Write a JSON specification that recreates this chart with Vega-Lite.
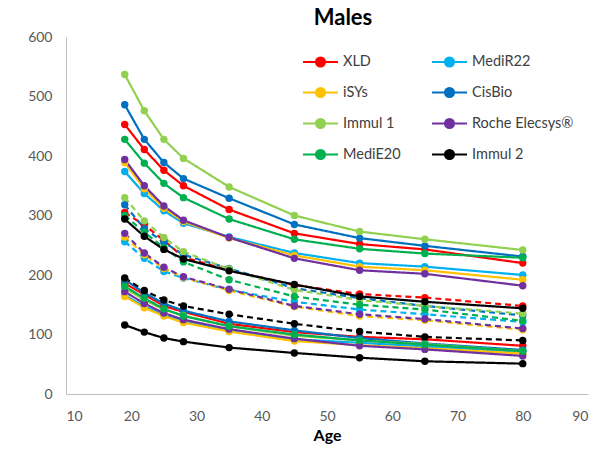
{
"$schema": "https://vega.github.io/schema/vega-lite/v6.json",
"width": 522, "height": 357,
"autosize": "none",
"padding": {"left": 66, "top": 37, "right": 13, "bottom": 58},
"background": "white",
"title": {"text": "Males", "font": "Lato", "fontSize": 22, "fontWeight": "bold", "color": "#000000", "anchor": "middle", "dx": 16, "offset": 0},
"config": {
  "view": {"stroke": null},
  "axis": {"grid": false, "ticks": false, "domainColor": "#bfbfbf", "domainWidth": 1, "labelFont": "Lato", "labelFontSize": 14, "labelColor": "#595959", "titleFont": "Lato", "titleColor": "#000000"}
},
"data": {"values": [
{"a":"XLD","p":"upper","age":19,"v":453},{"a":"XLD","p":"upper","age":22,"v":411},{"a":"XLD","p":"upper","age":25,"v":376},{"a":"XLD","p":"upper","age":28,"v":350},{"a":"XLD","p":"upper","age":35,"v":310},{"a":"XLD","p":"upper","age":45,"v":270},{"a":"XLD","p":"upper","age":55,"v":252},{"a":"XLD","p":"upper","age":65,"v":243},{"a":"XLD","p":"upper","age":80,"v":220},
{"a":"XLD","p":"median","age":19,"v":305},{"a":"XLD","p":"median","age":22,"v":284},{"a":"XLD","p":"median","age":25,"v":258},{"a":"XLD","p":"median","age":28,"v":230},{"a":"XLD","p":"median","age":35,"v":208},{"a":"XLD","p":"median","age":45,"v":183},{"a":"XLD","p":"median","age":55,"v":168},{"a":"XLD","p":"median","age":65,"v":162},{"a":"XLD","p":"median","age":80,"v":148},
{"a":"XLD","p":"lower","age":19,"v":186},{"a":"XLD","p":"lower","age":22,"v":167},{"a":"XLD","p":"lower","age":25,"v":148},{"a":"XLD","p":"lower","age":28,"v":138},{"a":"XLD","p":"lower","age":35,"v":118},{"a":"XLD","p":"lower","age":45,"v":104},{"a":"XLD","p":"lower","age":55,"v":96},{"a":"XLD","p":"lower","age":65,"v":92},{"a":"XLD","p":"lower","age":80,"v":81},
{"a":"MediR22","p":"upper","age":19,"v":374},{"a":"MediR22","p":"upper","age":22,"v":337},{"a":"MediR22","p":"upper","age":25,"v":308},{"a":"MediR22","p":"upper","age":28,"v":287},{"a":"MediR22","p":"upper","age":35,"v":264},{"a":"MediR22","p":"upper","age":45,"v":237},{"a":"MediR22","p":"upper","age":55,"v":220},{"a":"MediR22","p":"upper","age":65,"v":214},{"a":"MediR22","p":"upper","age":80,"v":200},
{"a":"MediR22","p":"median","age":19,"v":256},{"a":"MediR22","p":"median","age":22,"v":228},{"a":"MediR22","p":"median","age":25,"v":206},{"a":"MediR22","p":"median","age":28,"v":195},{"a":"MediR22","p":"median","age":35,"v":175},{"a":"MediR22","p":"median","age":45,"v":155},{"a":"MediR22","p":"median","age":55,"v":142},{"a":"MediR22","p":"median","age":65,"v":134},{"a":"MediR22","p":"median","age":80,"v":121},
{"a":"MediR22","p":"lower","age":19,"v":166},{"a":"MediR22","p":"lower","age":22,"v":147},{"a":"MediR22","p":"lower","age":25,"v":133},{"a":"MediR22","p":"lower","age":28,"v":122},{"a":"MediR22","p":"lower","age":35,"v":107},{"a":"MediR22","p":"lower","age":45,"v":92},{"a":"MediR22","p":"lower","age":55,"v":86},{"a":"MediR22","p":"lower","age":65,"v":80},{"a":"MediR22","p":"lower","age":80,"v":71},
{"a":"iSYs","p":"upper","age":19,"v":389},{"a":"iSYs","p":"upper","age":22,"v":345},{"a":"iSYs","p":"upper","age":25,"v":312},{"a":"iSYs","p":"upper","age":28,"v":290},{"a":"iSYs","p":"upper","age":35,"v":262},{"a":"iSYs","p":"upper","age":45,"v":233},{"a":"iSYs","p":"upper","age":55,"v":214},{"a":"iSYs","p":"upper","age":65,"v":208},{"a":"iSYs","p":"upper","age":80,"v":192},
{"a":"iSYs","p":"median","age":19,"v":264},{"a":"iSYs","p":"median","age":22,"v":234},{"a":"iSYs","p":"median","age":25,"v":211},{"a":"iSYs","p":"median","age":28,"v":196},{"a":"iSYs","p":"median","age":35,"v":174},{"a":"iSYs","p":"median","age":45,"v":147},{"a":"iSYs","p":"median","age":55,"v":131},{"a":"iSYs","p":"median","age":65,"v":124},{"a":"iSYs","p":"median","age":80,"v":108},
{"a":"iSYs","p":"lower","age":19,"v":164},{"a":"iSYs","p":"lower","age":22,"v":145},{"a":"iSYs","p":"lower","age":25,"v":131},{"a":"iSYs","p":"lower","age":28,"v":120},{"a":"iSYs","p":"lower","age":35,"v":105},{"a":"iSYs","p":"lower","age":45,"v":89},{"a":"iSYs","p":"lower","age":55,"v":82},{"a":"iSYs","p":"lower","age":65,"v":77},{"a":"iSYs","p":"lower","age":80,"v":68},
{"a":"CisBio","p":"upper","age":19,"v":486},{"a":"CisBio","p":"upper","age":22,"v":428},{"a":"CisBio","p":"upper","age":25,"v":389},{"a":"CisBio","p":"upper","age":28,"v":362},{"a":"CisBio","p":"upper","age":35,"v":329},{"a":"CisBio","p":"upper","age":45,"v":285},{"a":"CisBio","p":"upper","age":55,"v":262},{"a":"CisBio","p":"upper","age":65,"v":249},{"a":"CisBio","p":"upper","age":80,"v":231},
{"a":"CisBio","p":"median","age":19,"v":318},{"a":"CisBio","p":"median","age":22,"v":278},{"a":"CisBio","p":"median","age":25,"v":255},{"a":"CisBio","p":"median","age":28,"v":234},{"a":"CisBio","p":"median","age":35,"v":211},{"a":"CisBio","p":"median","age":45,"v":178},{"a":"CisBio","p":"median","age":55,"v":161},{"a":"CisBio","p":"median","age":65,"v":148},{"a":"CisBio","p":"median","age":80,"v":132},
{"a":"CisBio","p":"lower","age":19,"v":192},{"a":"CisBio","p":"lower","age":22,"v":170},{"a":"CisBio","p":"lower","age":25,"v":152},{"a":"CisBio","p":"lower","age":28,"v":140},{"a":"CisBio","p":"lower","age":35,"v":122},{"a":"CisBio","p":"lower","age":45,"v":107},{"a":"CisBio","p":"lower","age":55,"v":94},{"a":"CisBio","p":"lower","age":65,"v":85},{"a":"CisBio","p":"lower","age":80,"v":74},
{"a":"Immul 1","p":"upper","age":19,"v":537},{"a":"Immul 1","p":"upper","age":22,"v":476},{"a":"Immul 1","p":"upper","age":25,"v":428},{"a":"Immul 1","p":"upper","age":28,"v":396},{"a":"Immul 1","p":"upper","age":35,"v":348},{"a":"Immul 1","p":"upper","age":45,"v":300},{"a":"Immul 1","p":"upper","age":55,"v":273},{"a":"Immul 1","p":"upper","age":65,"v":260},{"a":"Immul 1","p":"upper","age":80,"v":242},
{"a":"Immul 1","p":"median","age":19,"v":330},{"a":"Immul 1","p":"median","age":22,"v":291},{"a":"Immul 1","p":"median","age":25,"v":263},{"a":"Immul 1","p":"median","age":28,"v":239},{"a":"Immul 1","p":"median","age":35,"v":210},{"a":"Immul 1","p":"median","age":45,"v":175},{"a":"Immul 1","p":"median","age":55,"v":158},{"a":"Immul 1","p":"median","age":65,"v":148},{"a":"Immul 1","p":"median","age":80,"v":135},
{"a":"Immul 1","p":"lower","age":19,"v":178},{"a":"Immul 1","p":"lower","age":22,"v":158},{"a":"Immul 1","p":"lower","age":25,"v":142},{"a":"Immul 1","p":"lower","age":28,"v":132},{"a":"Immul 1","p":"lower","age":35,"v":114},{"a":"Immul 1","p":"lower","age":45,"v":98},{"a":"Immul 1","p":"lower","age":55,"v":90},{"a":"Immul 1","p":"lower","age":65,"v":84},{"a":"Immul 1","p":"lower","age":80,"v":72},
{"a":"Roche Elecsys®","p":"upper","age":19,"v":394},{"a":"Roche Elecsys®","p":"upper","age":22,"v":350},{"a":"Roche Elecsys®","p":"upper","age":25,"v":316},{"a":"Roche Elecsys®","p":"upper","age":28,"v":292},{"a":"Roche Elecsys®","p":"upper","age":35,"v":263},{"a":"Roche Elecsys®","p":"upper","age":45,"v":228},{"a":"Roche Elecsys®","p":"upper","age":55,"v":208},{"a":"Roche Elecsys®","p":"upper","age":65,"v":202},{"a":"Roche Elecsys®","p":"upper","age":80,"v":182},
{"a":"Roche Elecsys®","p":"median","age":19,"v":270},{"a":"Roche Elecsys®","p":"median","age":22,"v":237},{"a":"Roche Elecsys®","p":"median","age":25,"v":213},{"a":"Roche Elecsys®","p":"median","age":28,"v":197},{"a":"Roche Elecsys®","p":"median","age":35,"v":176},{"a":"Roche Elecsys®","p":"median","age":45,"v":148},{"a":"Roche Elecsys®","p":"median","age":55,"v":134},{"a":"Roche Elecsys®","p":"median","age":65,"v":126},{"a":"Roche Elecsys®","p":"median","age":80,"v":110},
{"a":"Roche Elecsys®","p":"lower","age":19,"v":172},{"a":"Roche Elecsys®","p":"lower","age":22,"v":152},{"a":"Roche Elecsys®","p":"lower","age":25,"v":136},{"a":"Roche Elecsys®","p":"lower","age":28,"v":125},{"a":"Roche Elecsys®","p":"lower","age":35,"v":109},{"a":"Roche Elecsys®","p":"lower","age":45,"v":93},{"a":"Roche Elecsys®","p":"lower","age":55,"v":81},{"a":"Roche Elecsys®","p":"lower","age":65,"v":75},{"a":"Roche Elecsys®","p":"lower","age":80,"v":64},
{"a":"MediE20","p":"upper","age":19,"v":428},{"a":"MediE20","p":"upper","age":22,"v":388},{"a":"MediE20","p":"upper","age":25,"v":354},{"a":"MediE20","p":"upper","age":28,"v":330},{"a":"MediE20","p":"upper","age":35,"v":294},{"a":"MediE20","p":"upper","age":45,"v":260},{"a":"MediE20","p":"upper","age":55,"v":244},{"a":"MediE20","p":"upper","age":65,"v":236},{"a":"MediE20","p":"upper","age":80,"v":229},
{"a":"MediE20","p":"median","age":19,"v":300},{"a":"MediE20","p":"median","age":22,"v":272},{"a":"MediE20","p":"median","age":25,"v":246},{"a":"MediE20","p":"median","age":28,"v":222},{"a":"MediE20","p":"median","age":35,"v":192},{"a":"MediE20","p":"median","age":45,"v":164},{"a":"MediE20","p":"median","age":55,"v":150},{"a":"MediE20","p":"median","age":65,"v":142},{"a":"MediE20","p":"median","age":80,"v":123},
{"a":"MediE20","p":"lower","age":19,"v":181},{"a":"MediE20","p":"lower","age":22,"v":161},{"a":"MediE20","p":"lower","age":25,"v":143},{"a":"MediE20","p":"lower","age":28,"v":131},{"a":"MediE20","p":"lower","age":35,"v":114},{"a":"MediE20","p":"lower","age":45,"v":100},{"a":"MediE20","p":"lower","age":55,"v":90},{"a":"MediE20","p":"lower","age":65,"v":83},{"a":"MediE20","p":"lower","age":80,"v":72},
{"a":"Immul 2","p":"upper","age":19,"v":294},{"a":"Immul 2","p":"upper","age":22,"v":265},{"a":"Immul 2","p":"upper","age":25,"v":243},{"a":"Immul 2","p":"upper","age":28,"v":227},{"a":"Immul 2","p":"upper","age":35,"v":207},{"a":"Immul 2","p":"upper","age":45,"v":184},{"a":"Immul 2","p":"upper","age":55,"v":164},{"a":"Immul 2","p":"upper","age":65,"v":155},{"a":"Immul 2","p":"upper","age":80,"v":144},
{"a":"Immul 2","p":"median","age":19,"v":195},{"a":"Immul 2","p":"median","age":22,"v":174},{"a":"Immul 2","p":"median","age":25,"v":158},{"a":"Immul 2","p":"median","age":28,"v":148},{"a":"Immul 2","p":"median","age":35,"v":134},{"a":"Immul 2","p":"median","age":45,"v":118},{"a":"Immul 2","p":"median","age":55,"v":105},{"a":"Immul 2","p":"median","age":65,"v":96},{"a":"Immul 2","p":"median","age":80,"v":90},
{"a":"Immul 2","p":"lower","age":19,"v":116},{"a":"Immul 2","p":"lower","age":22,"v":104},{"a":"Immul 2","p":"lower","age":25,"v":94},{"a":"Immul 2","p":"lower","age":28,"v":88},{"a":"Immul 2","p":"lower","age":35,"v":78},{"a":"Immul 2","p":"lower","age":45,"v":69},{"a":"Immul 2","p":"lower","age":55,"v":61},{"a":"Immul 2","p":"lower","age":65,"v":55},{"a":"Immul 2","p":"lower","age":80,"v":51}
]},
"encoding": {
  "x": {"field": "age", "type": "quantitative", "scale": {"domain": [10, 90], "nice": false, "zero": false},
        "axis": {"title": "Age", "values": [10,20,30,40,50,60,70,80,90], "labelPadding": 15, "titleFontSize": 16, "titleFontWeight": "bold", "titlePadding": 4}},
  "y": {"field": "v", "type": "quantitative", "scale": {"domain": [0, 600], "nice": false},
        "axis": {"title": null, "values": [0,100,200,300,400,500,600], "labelPadding": 14}},
  "color": {"field": "a", "type": "nominal",
    "scale": {"domain": ["XLD","iSYs","Immul 1","MediE20","MediR22","CisBio","Roche Elecsys®","Immul 2"],
              "range": ["#ff0000","#ffc000","#92d050","#00b050","#00b0f0","#0070c0","#7030a0","#000000"]},
    "legend": {"title": null, "orient": "none", "legendX": 236, "legendY": 6, "columns": 2, "columnPadding": 27, "rowPadding": 3,
      "labelFont": "Lato", "labelFontSize": 14.5, "labelColor": "#404040", "labelOffset": 4,
      "symbolType": "M-1,0H1M-0.26,0A0.26,0.26 0 1,0 0.26,0A0.26,0.26 0 1,0 -0.26,0Z",
      "symbolSize": 1225, "symbolStrokeWidth": 2,
      "encode": {"symbols": {"update": {"stroke": {"scale": "color", "field": "value"}, "fill": {"scale": "color", "field": "value"}, "opacity": {"value": 1}}}}}
  },
  "detail": {"field": "p"}
},
"layer": [
  {"mark": {"type": "line", "strokeWidth": 2.2},
   "encoding": {"strokeDash": {"field": "p", "type": "nominal", "scale": {"domain": ["upper","median","lower"], "range": [[1,0],[6,4],[1,0]]}, "legend": null}}},
  {"mark": {"type": "point", "filled": true, "size": 55, "opacity": 1}}
]
}
